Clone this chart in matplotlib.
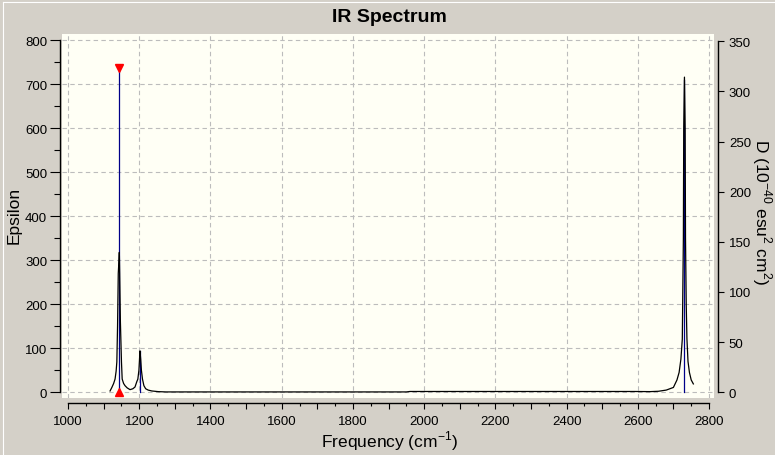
import matplotlib
matplotlib.use('Agg')
import matplotlib.pyplot as plt
from matplotlib.ticker import MultipleLocator, FuncFormatter
from matplotlib.lines import Line2D

# broadened spectrum (left axis, epsilon)
freq = [1118, 1123, 1128, 1132, 1135, 1137, 1139, 1141, 1143, 1144, 1145, 1147,
        1150, 1152, 1156, 1160, 1166, 1174, 1182, 1188, 1193, 1196, 1199, 1201,
        1202, 1204, 1206, 1209, 1213, 1218, 1225, 1235, 1253, 1275, 1950, 1960,
        2590, 2635, 2658, 2680, 2700, 2710, 2716, 2721, 2725, 2728, 2729, 2731,
        2733, 2734, 2736, 2738, 2741, 2745, 2750, 2756]
epsilon = [3, 11, 20, 30, 48, 69, 150, 270, 300, 318, 270, 160,
           69, 30, 20, 15, 10, 6, 8, 12, 24, 30, 50, 80,
           94, 75, 50, 30, 15, 8, 5, 3, 1.5, 0.8, 0.8, 1.8,
           1.8, 1.5, 2.3, 5, 11, 28, 45, 75, 121, 350, 600, 716,
           600, 350, 200, 121, 70, 45, 28, 19]

# stick spectrum (right axis, D)
stick_freq = [1144, 1202, 2731]
stick_d = [323, 41, 311]

# selected peak (red markers)
sel_freq = 1144
sel_d = 323

BG = '#d4d0c8'
PLOT_BG = '#fffff5'
BLUE = '#000088'
FONT = ['Liberation Sans', 'DejaVu Sans']

plt.rcParams['font.family'] = FONT
plt.rcParams['mathtext.fontset'] = 'custom'
plt.rcParams['mathtext.rm'] = 'Liberation Sans'

W, H = 775, 456
fig = plt.figure(figsize=(W / 100, H / 100), dpi=100, facecolor=BG)
ax = fig.add_axes([62 / W, 1 - 399 / H, (714 - 62) / W, (399 - 35) / H])
ax.set_facecolor(PLOT_BG)
ax.set_xlim(983, 2814)
ax.set_ylim(-13, 814)

ax2 = ax.twinx()
ax2.set_ylim(-5.7, 357.2)

# dashed grid
for gx in range(1000, 2801, 200):
    ax.axvline(gx, color='#bcbcbc', lw=0.8, ls=(0, (4, 3)), zorder=0.5)
for gy in range(0, 801, 100):
    ax.axhline(gy, color='#bcbcbc', lw=0.8, ls=(0, (4, 3)), zorder=0.5)

# sticks in D units
for f, d in zip(stick_freq, stick_d):
    ax.plot([f, f], [0, d], color=BLUE, lw=0.9, transform=ax2.transData, zorder=2)

# broadened curve on top
ax.plot(freq, epsilon, color='black', lw=0.9, zorder=3)

# selection markers
ax.plot([sel_freq], [sel_d], marker='v', color='red', ms=6, ls='none',
        transform=ax2.transData, zorder=4, clip_on=False)
ax.plot([sel_freq], [0], marker='^', color='red', ms=6, ls='none',
        transform=ax2.transData, zorder=4, clip_on=False)

# spines
for s in ['top', 'right']:
    ax.spines[s].set_visible(False)
ax.spines['left'].set_position(('outward', 1.5))
ax.spines['left'].set_bounds(0, 800)
ax.spines['bottom'].set_position(('outward', 3.6))
ax.spines['bottom'].set_bounds(1000, 2800)
for s in ['top', 'left', 'bottom']:
    ax2.spines[s].set_visible(False)
ax2.spines['right'].set_position(('outward', 2.9))
ax2.spines['right'].set_bounds(0, 350)
for sp in list(ax.spines.values()) + list(ax2.spines.values()):
    sp.set_linewidth(1.0)
    sp.set_color('black')

# ticks
ax.xaxis.set_major_locator(MultipleLocator(100))
ax.xaxis.set_minor_locator(MultipleLocator(50))
ax.xaxis.set_major_formatter(FuncFormatter(lambda v, p: f'{v:.0f}' if v % 200 == 0 else ''))
ax.yaxis.set_major_locator(MultipleLocator(100))
ax.yaxis.set_minor_locator(MultipleLocator(50))
ax2.yaxis.set_major_locator(MultipleLocator(50))

ax.tick_params(axis='x', which='major', length=4.3, width=0.8, pad=4.5, labelsize=9.5)
ax.tick_params(axis='x', which='minor', length=2.5, width=0.8)
ax.tick_params(axis='y', which='major', length=7.2, width=0.8, pad=2, labelsize=9.5)
ax.tick_params(axis='y', which='minor', length=4.3, width=0.8)
ax2.tick_params(axis='y', which='major', length=4.3, width=0.8, pad=3.5, labelsize=9.5)

# texts
fig.text(389.5 / W, 1 - 17 / H, 'IR Spectrum', ha='center', va='center',
         fontsize=14, fontweight='bold')
fig.text(14.5 / W, 1 - 215 / H, 'Epsilon', ha='center', va='center',
         rotation=90, fontsize=12.5)
fig.text(390 / W, 1 - 441 / H, 'Frequency (cm$^{-1}$)', ha='center', va='center',
         fontsize=12.5)
fig.text(762 / W, 1 - 212 / H, 'D (10$^{-40}$ esu$^{2}$ cm$^{2}$)', ha='center',
         va='center', rotation=-90, fontsize=12.5)

# window-style frame
fig.add_artist(Line2D([2.5 / W, 1], [1 - 2.5 / H] * 2, color='white', lw=0.8))
fig.add_artist(Line2D([2.5 / W] * 2, [1 - 2.5 / H, 0], color='white', lw=0.8))

fig.savefig('out.png', dpi=100, facecolor=BG)
